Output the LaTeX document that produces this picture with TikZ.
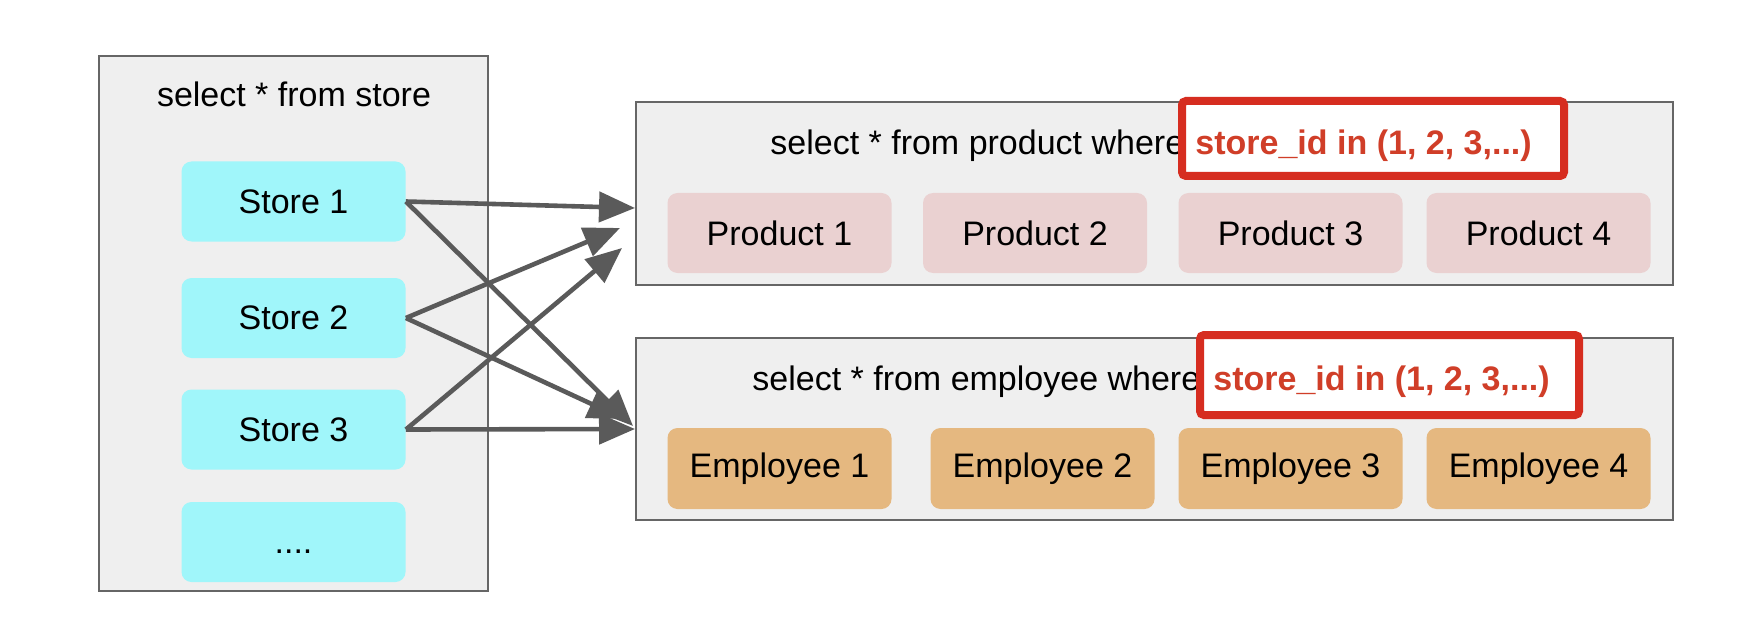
\documentclass[tikz,border=0pt]{standalone}
\usepackage{fontspec}
\setmainfont{Liberation Sans}
\usetikzlibrary{arrows.meta}
\definecolor{outerfill}{RGB}{239,239,239}
\definecolor{outerdraw}{RGB}{102,102,102}
\definecolor{storec}{RGB}{160,246,250}
\definecolor{prodc}{RGB}{234,209,209}
\definecolor{empc}{RGB}{229,184,128}
\definecolor{arrowc}{RGB}{90,90,90}
\definecolor{redbox}{RGB}{214,45,32}
\definecolor{redtext}{RGB}{208,62,40}
\begin{document}
\begin{tikzpicture}[x=0.5pt,y=-0.5pt,
  every node/.style={font=\fontsize{17pt}{20pt}\selectfont},
  outerbox/.style={draw=outerdraw, fill=outerfill, line width=1pt, inner sep=0pt},
  item/.style={rounded corners=5pt, inner sep=0pt, minimum width=112pt, minimum height=40pt},
  storebox/.style={item, fill=storec},
  prodbox/.style={item, fill=prodc},
  empbox/.style={item, fill=empc},
  title/.style={anchor=base west, inner sep=0pt},
  link/.style={draw=arrowc, line width=2.3pt, -{Triangle[length=18pt,width=15pt]}},
  hilite/.style={draw=redbox, line width=4pt, fill=white, rounded corners=2pt, inner sep=0pt},
  redlabel/.style={text=redtext, font=\fontsize{17pt}{20pt}\selectfont\bfseries, anchor=base west, inner sep=0pt}
]
\fill[white] (0,0) rectangle (1764,636);
\useasboundingbox (0,0) rectangle (1764,636);

% left query box
\node[outerbox, minimum width=194.5pt, minimum height=267.5pt] (storeq) at (293.5,323.5) {};
\node[anchor=base, inner sep=0pt] (storetitle) at (294,107) {select * from store};
\node[storebox] (s1) at (293.5,201.5) {Store 1};
\node[storebox] (s2) at (293.5,318) {Store 2};
\node[storebox] (s3) at (293.5,429.5) {Store 3};
\node[storebox] (sd) at (293.5,542) {\vphantom{Store}....};

% product query box
\node[outerbox, minimum width=518.5pt, minimum height=91.5pt] (prodq) at (1154.5,193.5) {};
\node[title] (prodtitle) at (770,155) {select * from product where};
\node[prodbox] (p1) at (779.5,233) {Product 1};
\node[prodbox] (p2) at (1035,233) {Product 2};
\node[prodbox] (p3) at (1290.5,233) {Product 3};
\node[prodbox] (p4) at (1538.5,233) {Product 4};

% employee query box
\node[outerbox, minimum width=518.5pt, minimum height=91pt] (empq) at (1154.5,429) {};
\node[title] (emptitle) at (752,390) {select * from employee where};
\node[empbox, minimum height=40.5pt] (e1) at (779.5,468.5) {Employee 1};
\node[empbox, minimum height=40.5pt] (e2) at (1042.5,468.5) {Employee 2};
\node[empbox, minimum height=40.5pt] (e3) at (1290.5,468.5) {Employee 3};
\node[empbox, minimum height=40.5pt] (e4) at (1538.5,468.5) {Employee 4};

% arrow ends
\coordinate (pa) at (635,208);
\coordinate (pb) at (620,228);
\coordinate (pc) at (622,248);
\coordinate (ea) at (633,426);
\coordinate (eb) at (624,419);
\coordinate (ec) at (635,429);

\draw[link] (s1.east) -- (pa);
\draw[link] (s1.east) -- (ea);
\draw[link] (s2.east) -- (pb);
\draw[link] (s2.east) -- (eb);
\draw[link] (s3.east) -- (pc);
\draw[link] (s3.east) -- (ec);

% highlights
\node[hilite, minimum width=191pt, minimum height=37.5pt] (h1) at (1373,138.5) {};
\node[redlabel] (r1) at (1195,155) {store\_id in (1, 2, 3,...)};
\node[hilite, minimum width=189.5pt, minimum height=40pt] (h2) at (1389.5,375) {};
\node[redlabel] (r2) at (1213,390) {store\_id in (1, 2, 3,...)};
\end{tikzpicture}
\end{document}
